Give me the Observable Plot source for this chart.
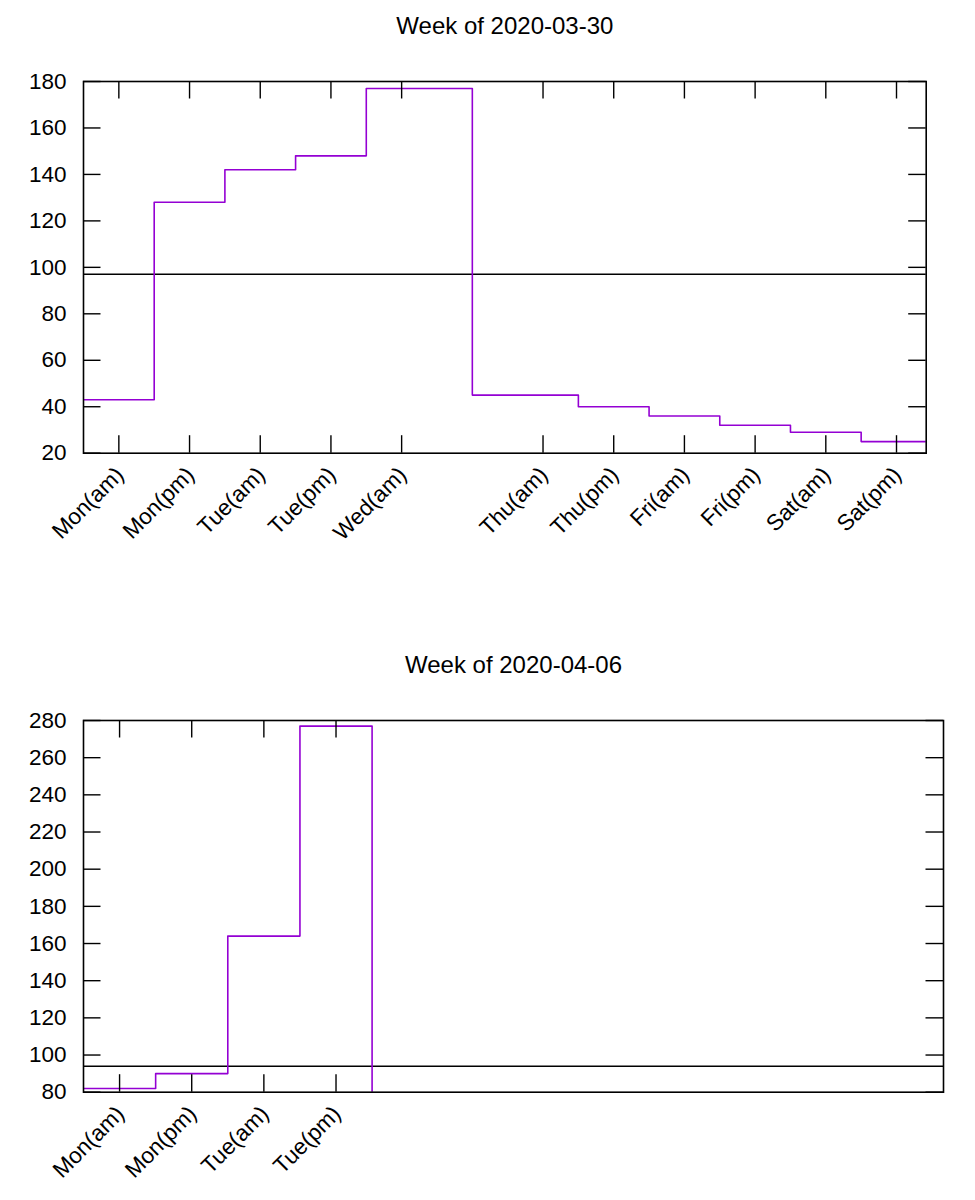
<!DOCTYPE html>
<html><head><meta charset="utf-8">
<script src="https://cdn.jsdelivr.net/npm/d3@7"></script>
<script src="https://cdn.jsdelivr.net/npm/@observablehq/plot@0.6"></script>
<style>body{margin:0;background:#fff;} #charts svg{display:block;}</style>
</head><body><div id="charts"></div>
<script>
// Week of 2020-03-30
const week1Labels = ["Mon(am)","Mon(pm)","Tue(am)","Tue(pm)","Wed(am)","Thu(am)","Thu(pm)","Fri(am)","Fri(pm)","Sat(am)","Sat(pm)"];
const week1Slots = [0,1,2,3,4,6,7,8,9,10,11];
const week1Values = [43,128,142,148,177,45,40,36,32,29,25];
const week1Reference = 97;
const week1YTicks = [20,40,60,80,100,120,140,160,180];

// Week of 2020-04-06
const week2Labels = ["Mon(am)","Mon(pm)","Tue(am)","Tue(pm)"];
const week2Slots = [0,1,2,3];
const week2Values = [82,90,164,277];
const week2Reference = 94;
const week2YTicks = [80,100,120,140,160,180,200,220,240,260,280];

const xDomain = [-0.5, 11.42];

function weekChart({title, labels, slots, values, reference, yTicks, yDomain, height, marginTop, marginBottom, marginRight}) {
  const width = 975, marginLeft = 83;
  const W = width - marginLeft - marginRight, H = height - marginTop - marginBottom;
  const tick = 17.5;
  const last = slots.length - 1;
  const pts = [
    {x: slots[0] - 0.5, y: values[0]},
    ...slots.map((s, i) => ({x: s, y: values[i]})),
    {x: slots[last] + 0.5, y: values[last]},
    {x: slots[last] + 0.5, y: 0}
  ];
  return Plot.plot({
    width, height, marginLeft, marginRight, marginTop, marginBottom,
    x: {domain: xDomain},
    y: {domain: yDomain},
    style: {fontFamily: "'Liberation Sans', Arial, Helvetica, sans-serif", background: "white", overflow: "visible"},
    marks: [
      Plot.ruleY([reference], {stroke: "black", strokeWidth: 1.4}),
      Plot.line(pts, {x: "x", y: "y", curve: "step", stroke: "#9400d3", strokeWidth: 1.6, clip: true}),
      Plot.ruleX(slots, {insetTop: H - tick, stroke: "black", strokeWidth: 1.4}),
      Plot.ruleX(slots, {insetBottom: H - tick, stroke: "black", strokeWidth: 1.4}),
      Plot.ruleY(yTicks, {insetRight: W - tick, stroke: "black", strokeWidth: 1.4}),
      Plot.ruleY(yTicks, {insetLeft: W - tick, stroke: "black", strokeWidth: 1.4}),
      Plot.frame({stroke: "black", strokeWidth: 1.6}),
      Plot.axisY({ticks: yTicks, tickSize: 0, tickPadding: 17, fontSize: 22.5, label: null, tickFormat: d => String(d)}),
      Plot.axisX({ticks: slots, tickSize: 0, tickRotate: -45, tickPadding: 18, dx: 1, fontSize: 22.5, label: null, tickFormat: d => labels[slots.indexOf(d)]}),
      Plot.text([title], {frameAnchor: "top", lineAnchor: "middle", dy: -55, fontSize: 24, text: d => d, fill: "black"})
    ]
  });
}

const container = document.getElementById("charts");
container.append(weekChart({
  title: "Week of 2020-03-30", labels: week1Labels, slots: week1Slots, values: week1Values,
  reference: week1Reference, yTicks: week1YTicks, yDomain: [20, 180],
  height: 600, marginTop: 81, marginBottom: 147.3, marginRight: 49.3
}));
container.append(weekChart({
  title: "Week of 2020-04-06", labels: week2Labels, slots: week2Slots, values: week2Values,
  reference: week2Reference, yTicks: week2YTicks, yDomain: [80, 280],
  height: 600, marginTop: 120, marginBottom: 108.3, marginRight: 32
}));
</script>
</body></html>
